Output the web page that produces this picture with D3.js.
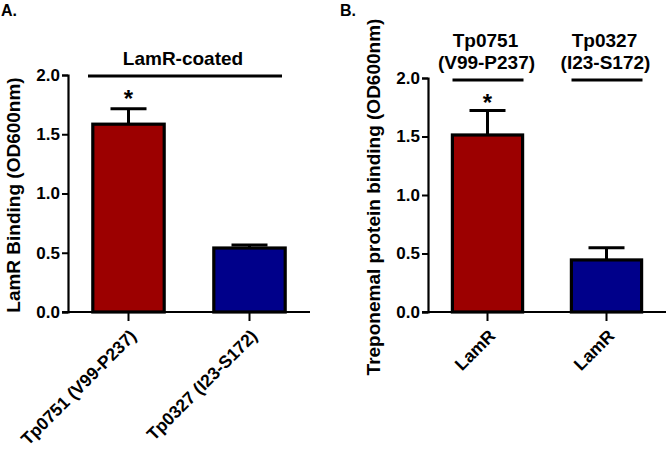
<!DOCTYPE html>
<html><head><meta charset="utf-8">
<script src="https://cdn.jsdelivr.net/npm/d3@7"></script>
<style>
body{margin:0;background:#fff;}
text{font-family:"Liberation Sans",Arial,sans-serif;font-weight:bold;fill:#000;}
</style></head>
<body><svg id="c" width="666" height="450"></svg>
<script>
// Panel A data
const catsA = ["Tp0751 (V99-P237)", "Tp0327 (I23-S172)"];
const valsA = [1.585, 0.54];
const errA = [0.13, 0.025];
// Panel B data
const catsB = ["LamR", "LamR"];
const groupsB = [["Tp0751", "(V99-P237)"], ["Tp0327", "(I23-S172)"]];
const valsB = [1.513, 0.445];
const errB = [0.21, 0.105];
const colors = ["#9c0000", "#00008a"];
const yTicks = [0.0, 0.5, 1.0, 1.5, 2.0];

const svg = d3.select("#c");

function panel(opt) {
  const g = svg.append("g");
  const y = d3.scaleLinear().domain([0, 2]).range([312, opt.yTop]);
  const x = d3.scaleBand().domain(d3.range(opt.vals.length)).range([opt.x0, opt.x1])
    .paddingInner(0.41).paddingOuter(0.205);

  // bars
  g.selectAll("rect.bar").data(opt.vals).enter().append("rect")
    .attr("x", (d, i) => x(i)).attr("width", x.bandwidth())
    .attr("y", d => y(d)).attr("height", d => y(0) - y(d))
    .attr("fill", (d, i) => colors[i]).attr("stroke", "#000").attr("stroke-width", 3.2);
  // error bars
  opt.vals.forEach((v, i) => {
    const cx = x(i) + x.bandwidth() / 2;
    g.append("line").attr("x1", cx).attr("x2", cx).attr("y1", y(v)).attr("y2", y(v + opt.err[i]))
      .attr("stroke", "#000").attr("stroke-width", 3);
    g.append("line").attr("x1", cx - 18).attr("x2", cx + 18).attr("y1", y(v + opt.err[i])).attr("y2", y(v + opt.err[i]))
      .attr("stroke", "#000").attr("stroke-width", 3);
  });

  // y axis
  const ya = g.append("g").attr("transform", `translate(${opt.x0},0)`)
    .call(d3.axisLeft(y).tickValues(yTicks).tickFormat(d3.format(".1f")).tickSizeOuter(0).tickSize(6).tickPadding(2));
  ya.select(".domain").attr("stroke-width", 2.2);
  ya.selectAll(".tick line").attr("stroke-width", 2);
  ya.selectAll(".tick text").style("font-size", "17px");

  // x axis
  const xa = g.append("g").attr("transform", `translate(0,312)`)
    .call(d3.axisBottom(x).tickSize(9).tickSizeOuter(0).tickFormat(i => opt.cats[i]));
  xa.select(".domain").attr("stroke-width", 2.2).attr("d", `M${opt.x0 - 6},0H${opt.x1}`);
  xa.selectAll(".tick line").attr("stroke-width", 2);
  xa.selectAll(".tick text").style("font-size", "17.5px")
    .attr("text-anchor", "end").attr("dy", 0)
    .attr("transform", "translate(9,25) rotate(-45)").attr("y", 0).attr("x", 0);

  // y title
  g.append("text").attr("transform", `translate(${opt.titleX},${opt.titleY}) rotate(-90)`)
    .attr("text-anchor", "middle").style("font-size", opt.titleSize + "px").text(opt.title);
  return {x, y, g};
}

const A = panel({vals: valsA, err: errA, cats: catsA, x0: 68, x1: 310, yTop: 75,
  title: "LamR Binding (OD600nm)", titleX: 20, titleY: 195, titleSize: 19});
const B = panel({vals: valsB, err: errB, cats: catsB, x0: 428, x1: 666, yTop: 78,
  title: "Treponemal protein binding (OD600nm)", titleX: 380, titleY: 197, titleSize: 19});

// Panel labels
svg.append("text").attr("x", 1).attr("y", 16).style("font-size", "16px").text("A.");
svg.append("text").attr("x", 340).attr("y", 16).style("font-size", "16px").text("B.");

// A group line
svg.append("line").attr("x1", 88).attr("x2", 282).attr("y1", 76).attr("y2", 76).attr("stroke", "#000").attr("stroke-width", 3);
svg.append("text").attr("x", 183).attr("y", 65).attr("text-anchor", "middle").style("font-size", "19px").text("LamR-coated");
// asterisks
const bwA = A.x.bandwidth() / 2, bwB = B.x.bandwidth() / 2;
svg.append("text").attr("x", A.x(0) + bwA).attr("y", 107).attr("text-anchor", "middle").style("font-size", "24px").text("*");
svg.append("text").attr("x", B.x(0) + bwB).attr("y", 111).attr("text-anchor", "middle").style("font-size", "24px").text("*");

// B group labels
groupsB.forEach((gr, i) => {
  const cx = B.x(i) + bwB;
  svg.append("line").attr("x1", cx - 35).attr("x2", cx + 36).attr("y1", 80).attr("y2", 80).attr("stroke", "#000").attr("stroke-width", 3);
  svg.append("text").attr("x", cx - 2).attr("y", 47).attr("text-anchor", "middle").style("font-size", "19px").text(gr[0]);
  svg.append("text").attr("x", cx - 1).attr("y", 69).attr("text-anchor", "middle").style("font-size", "19px").text(gr[1]);
});
</script></body></html>
